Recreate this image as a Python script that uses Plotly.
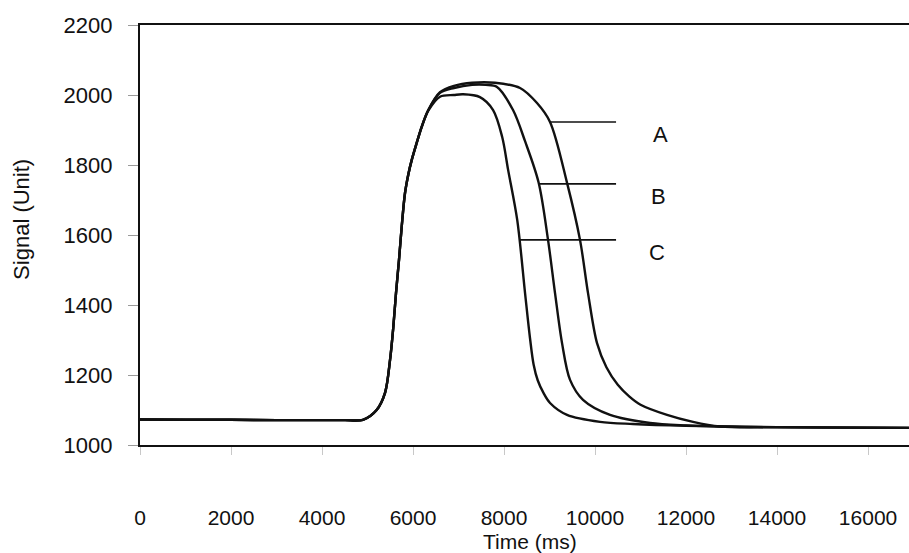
import plotly.graph_objects as go

# Signal traces (time in ms, signal in units)
a_time = [0, 1000, 2000, 3000, 4000, 4500, 4900, 5200, 5385, 5495, 5567, 5626, 5692,
          5751, 5824, 5900, 5971, 6081, 6191, 6336, 6593, 6900, 7300, 7800, 8352,
          8725, 9011, 9385, 9670, 9846, 10044, 10250, 10500, 10750, 11000, 11582,
          12154, 12747, 14000, 16900]
a_signal = [1073, 1072, 1072, 1071, 1071, 1071, 1072, 1100, 1149, 1243, 1337, 1434, 1529,
            1623, 1720, 1775, 1814, 1863, 1909, 1957, 2008, 2026, 2035, 2035, 2020,
            1977, 1923, 1749, 1586, 1434, 1291, 1222, 1172, 1139, 1115, 1086,
            1066, 1053, 1051, 1049]

b_time = [0, 1000, 2000, 3000, 4000, 4500, 4900, 5200, 5385, 5495, 5567, 5626, 5692,
          5751, 5824, 5900, 5971, 6081, 6191, 6336, 6593, 6900, 7300, 7600, 7846,
          8198, 8462, 8760, 8967, 9121, 9275, 9451, 9736, 10330, 11209, 12000,
          13000, 16900]
b_signal = [1073, 1072, 1072, 1071, 1071, 1071, 1072, 1100, 1149, 1243, 1337, 1434, 1529,
            1623, 1720, 1775, 1814, 1863, 1909, 1957, 2006, 2020, 2029, 2029, 2023,
            1957, 1868, 1750, 1586, 1434, 1291, 1186, 1129, 1086, 1063, 1056,
            1052, 1049]

c_time = [0, 1000, 2000, 3000, 4000, 4500, 4900, 5200, 5385, 5495, 5567, 5626, 5692,
          5751, 5824, 5900, 5971, 6081, 6191, 6336, 6593, 6900, 7100, 7470, 7760,
          7960, 8090, 8290, 8462, 8571, 8650, 8740, 8870, 9011, 9385, 10110,
          10835, 12000, 14000, 16900]
c_signal = [1073, 1072, 1072, 1071, 1071, 1071, 1072, 1100, 1149, 1243, 1337, 1434, 1529,
            1623, 1720, 1775, 1814, 1863, 1909, 1955, 1995, 2000, 2002, 1994, 1957,
            1880, 1786, 1643, 1434, 1305, 1230, 1185, 1148, 1120, 1086, 1066,
            1060, 1055, 1051, 1049]

# Leader lines from each curve to its label
series_names = ["A", "B", "C"]
leader_start = [9011, 8791, 8352]
leader_end = [10462, 10462, 10462]
leader_level = [1923, 1746, 1586]
label_time = [11429, 11385, 11363]
label_level = [1886, 1709, 1551]

x_ticks = [0, 2000, 4000, 6000, 8000, 10000, 12000, 14000, 16000]
y_ticks = [1000, 1200, 1400, 1600, 1800, 2000, 2200]

FONT = "Liberation Sans, Arial, sans-serif"
INK = "#111111"

fig = go.Figure()
for t, s in [(a_time, a_signal), (b_time, b_signal), (c_time, c_signal)]:
    fig.add_trace(go.Scatter(x=t, y=s, mode="lines",
                             line=dict(color=INK, width=2.4, shape="spline", smoothing=0.9),
                             hoverinfo="skip", showlegend=False))

for x0, x1, lv in zip(leader_start, leader_end, leader_level):
    fig.add_trace(go.Scatter(x=[x0, x1], y=[lv, lv], mode="lines",
                             line=dict(color=INK, width=1.6),
                             hoverinfo="skip", showlegend=False))

annotations = []
for name, tx, ly in zip(series_names, label_time, label_level):
    annotations.append(dict(x=tx, y=ly, xref="x", yref="y", text=name, showarrow=False,
                            font=dict(family=FONT, size=22, color=INK)))

annotations.append(dict(x=0.507, y=0, xref="paper", yref="paper", text="Time (ms)",
                        showarrow=False, yanchor="middle", yshift=-96,
                        font=dict(family=FONT, size=21, color=INK)))
annotations.append(dict(x=0, y=0.536, xref="paper", yref="paper", text="Signal (Unit)",
                        showarrow=False, textangle=-90, xanchor="center", yanchor="middle",
                        xshift=-118, font=dict(family=FONT, size=22, color=INK)))

fig.update_layout(
    width=909, height=553,
    margin=dict(l=140, r=0, t=25, b=108),
    paper_bgcolor="white", plot_bgcolor="white",
    annotations=annotations,
    xaxis=dict(range=[0, 16900], tickvals=x_ticks, ticktext=[str(v) for v in x_ticks],
               showgrid=False, zeroline=False, showline=True, linecolor=INK, linewidth=2.2,
               mirror=True, ticks="outside", ticklen=8, tickwidth=1, tickcolor="#c8c8c8",
               ticklabelstandoff=45, automargin=False,
               tickfont=dict(family=FONT, size=21, color=INK)),
    yaxis=dict(range=[1000, 2200], tickvals=y_ticks, ticktext=[str(v) for v in y_ticks],
               showgrid=False, zeroline=False, showline=True, linecolor=INK, linewidth=2.2,
               ticks="outside", ticklen=10, tickwidth=1, tickcolor="#9a9a9a",
               ticklabelstandoff=11, automargin=False,
               tickfont=dict(family=FONT, size=22, color=INK)),
)

fig.write_html("out.html")
